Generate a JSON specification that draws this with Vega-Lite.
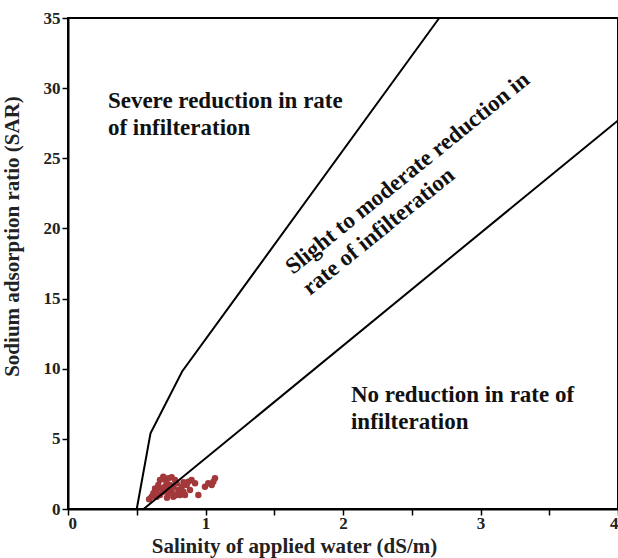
{
  "$schema": "https://vega.github.io/schema/vega-lite/v6.json",
  "width": 550,
  "height": 491,
  "autosize": "none",
  "padding": {"left": 68, "top": 18, "right": 0, "bottom": 49},
  "background": "white",
  "config": {
    "view": {"stroke": "black", "strokeWidth": 2},
    "font": "Liberation Serif",
    "axis": {
      "grid": false,
      "domainColor": "black",
      "domainWidth": 2,
      "tickColor": "black",
      "tickWidth": 1.5,
      "tickSize": 6,
      "labelFont": "Liberation Serif",
      "labelFontWeight": "bold",
      "labelFontSize": 17,
      "labelColor": "#222",
      "titleFont": "Liberation Serif",
      "titleFontWeight": "bold",
      "titleFontSize": 21,
      "titleColor": "#222"
    }
  },
  "datasets": {
    "pts": [
      {"ec": 0.693, "sar": 2.30}, {"ec": 0.669, "sar": 2.07}, {"ec": 0.705, "sar": 2.12}, {"ec": 0.730, "sar": 2.19},
      {"ec": 0.754, "sar": 2.26}, {"ec": 0.778, "sar": 2.07}, {"ec": 0.657, "sar": 1.71}, {"ec": 0.633, "sar": 1.47},
      {"ec": 0.621, "sar": 1.12}, {"ec": 0.608, "sar": 0.88}, {"ec": 0.645, "sar": 1.35}, {"ec": 0.681, "sar": 1.47},
      {"ec": 0.705, "sar": 1.59}, {"ec": 0.717, "sar": 1.83}, {"ec": 0.742, "sar": 1.71}, {"ec": 0.766, "sar": 1.59},
      {"ec": 0.790, "sar": 1.83}, {"ec": 0.802, "sar": 1.35}, {"ec": 0.827, "sar": 1.59}, {"ec": 0.839, "sar": 1.23},
      {"ec": 0.815, "sar": 1.00}, {"ec": 0.851, "sar": 1.00}, {"ec": 0.863, "sar": 1.71}, {"ec": 0.887, "sar": 1.35},
      {"ec": 0.899, "sar": 2.07}, {"ec": 0.924, "sar": 1.83}, {"ec": 0.948, "sar": 1.00}, {"ec": 0.996, "sar": 1.59},
      {"ec": 1.020, "sar": 1.83}, {"ec": 1.045, "sar": 1.71}, {"ec": 1.069, "sar": 2.19}, {"ec": 1.057, "sar": 1.95},
      {"ec": 0.669, "sar": 1.00}, {"ec": 0.693, "sar": 1.23}, {"ec": 0.730, "sar": 1.12}, {"ec": 0.754, "sar": 1.23},
      {"ec": 0.790, "sar": 1.00}, {"ec": 0.875, "sar": 1.95}, {"ec": 0.645, "sar": 0.88}, {"ec": 0.766, "sar": 0.88},
      {"ec": 0.742, "sar": 1.50}, {"ec": 0.590, "sar": 0.70}, {"ec": 0.720, "sar": 0.80}, {"ec": 0.840, "sar": 1.90}
    ],
    "lines": [
      {"ec": 0.50, "sar": 0, "zone": "upper", "o": 1},
      {"ec": 0.60, "sar": 5.4, "zone": "upper", "o": 2},
      {"ec": 0.83, "sar": 9.8, "zone": "upper", "o": 3},
      {"ec": 2.70, "sar": 35, "zone": "upper", "o": 4},
      {"ec": 0.55, "sar": 0, "zone": "lower", "o": 1},
      {"ec": 4.00, "sar": 27.7, "zone": "lower", "o": 2}
    ],
    "labels": [
      {"ec": 0.29, "sar": 28.58, "text": "Severe reduction in rate|of infilteration", "angle": 0},
      {"ec": 2.058, "sar": 7.63, "text": "No reduction in rate of|infilteration", "angle": 0},
      {"ec": 1.636, "sar": 16.68, "text": "Slight to moderate reduction in|rate of infilteration", "angle": 321}
    ]
  },
  "layer": [
    {
      "data": {"name": "pts"},
      "mark": {"type": "circle", "size": 42, "color": "#A3383B", "opacity": 1},
      "encoding": {
        "x": {
          "field": "ec", "type": "quantitative",
          "scale": {"domain": [0, 4], "nice": false},
          "axis": {
            "title": "Salinity of applied water (dS/m)",
            "values": [0, 0.5, 1, 1.5, 2, 2.5, 3, 3.5, 4],
            "labelExpr": "datum.value % 1 == 0 ? format(datum.value, 'd') : ''",
            "labelPadding": 0,
            "titleX": 226, "titlePadding": 0, "titleBaseline": "bottom", "titleY": 47
          }
        },
        "y": {
          "field": "sar", "type": "quantitative",
          "scale": {"domain": [0, 35], "nice": false},
          "axis": {
            "title": "Sodium adsorption ratio (SAR)",
            "values": [0, 5, 10, 15, 20, 25, 30, 35],
            "titleY": 218, "titleX": -46
          }
        }
      }
    },
    {
      "data": {"name": "lines"},
      "mark": {"type": "line", "color": "black", "strokeWidth": 2},
      "encoding": {
        "x": {"field": "ec", "type": "quantitative"},
        "y": {"field": "sar", "type": "quantitative"},
        "detail": {"field": "zone"},
        "order": {"field": "o"}
      }
    },
    {
      "data": {"name": "labels"},
      "mark": {"type": "text", "align": "left", "baseline": "alphabetic", "lineBreak": "|", "lineHeight": 27, "fontSize": 23, "fontWeight": "bold", "font": "Liberation Serif", "color": "#111"},
      "encoding": {
        "x": {"field": "ec", "type": "quantitative"},
        "y": {"field": "sar", "type": "quantitative"},
        "angle": {"field": "angle", "type": "quantitative", "scale": null},
        "text": {"field": "text"}
      }
    }
  ]
}
